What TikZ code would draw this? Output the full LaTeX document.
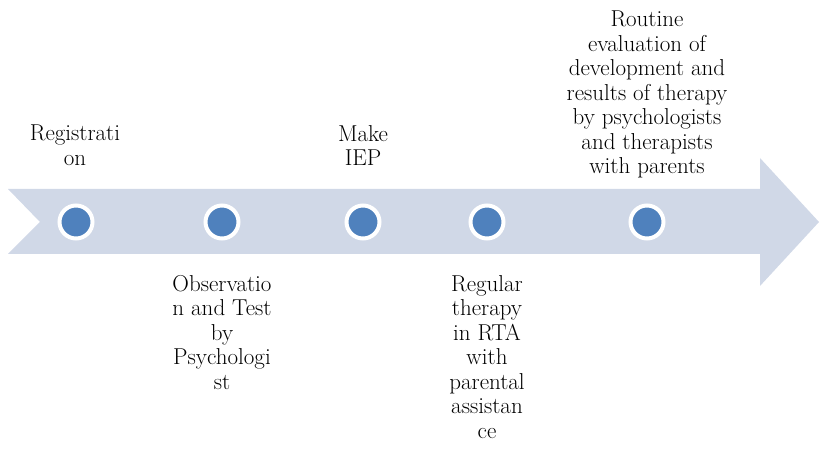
\documentclass[tikz,border=0pt]{standalone}
\begin{document}
\begin{tikzpicture}[x=1pt,y=-1pt,
  lbl/.style={align=center,inner sep=0pt,anchor=north,font=\fontsize{23}{24.5}\selectfont},
  dot/.style={circle,fill=dotblue,draw=white,line width=4pt,minimum size=33pt,inner sep=0pt}]
\definecolor{arrowfill}{HTML}{D0D8E7}
\definecolor{dotblue}{HTML}{4F81BD}
\useasboundingbox (0,0) rectangle (823,454);
\fill[arrowfill] (8,189) -- (760,189) -- (760,158) -- (819,222) -- (760,286) -- (760,254) -- (8,254) -- (40,222) -- cycle;
\node[dot] (d1) at (76,222) {};
\node[dot] (d2) at (222,222) {};
\node[dot] (d3) at (363,222) {};
\node[dot] (d4) at (487,222) {};
\node[dot] (d5) at (647,222) {};
\node[lbl] (t1) at (75,125) {Registrati\\on};
\node[lbl] (t2) at (222,275) {Observatio\\n and Test\\by\\Psychologi\\st};
\node[lbl] (t3) at (363,125) {Make\\IEP};
\node[lbl] (t4) at (487,275) {Regular\\therapy\\in RTA\\with\\parental\\assistan\\ce};
\node[lbl] (t5) at (647,11) {Routine\\evaluation of\\development and\\results of therapy\\by psychologists\\and therapists\\with parents};
\end{tikzpicture}
\end{document}
